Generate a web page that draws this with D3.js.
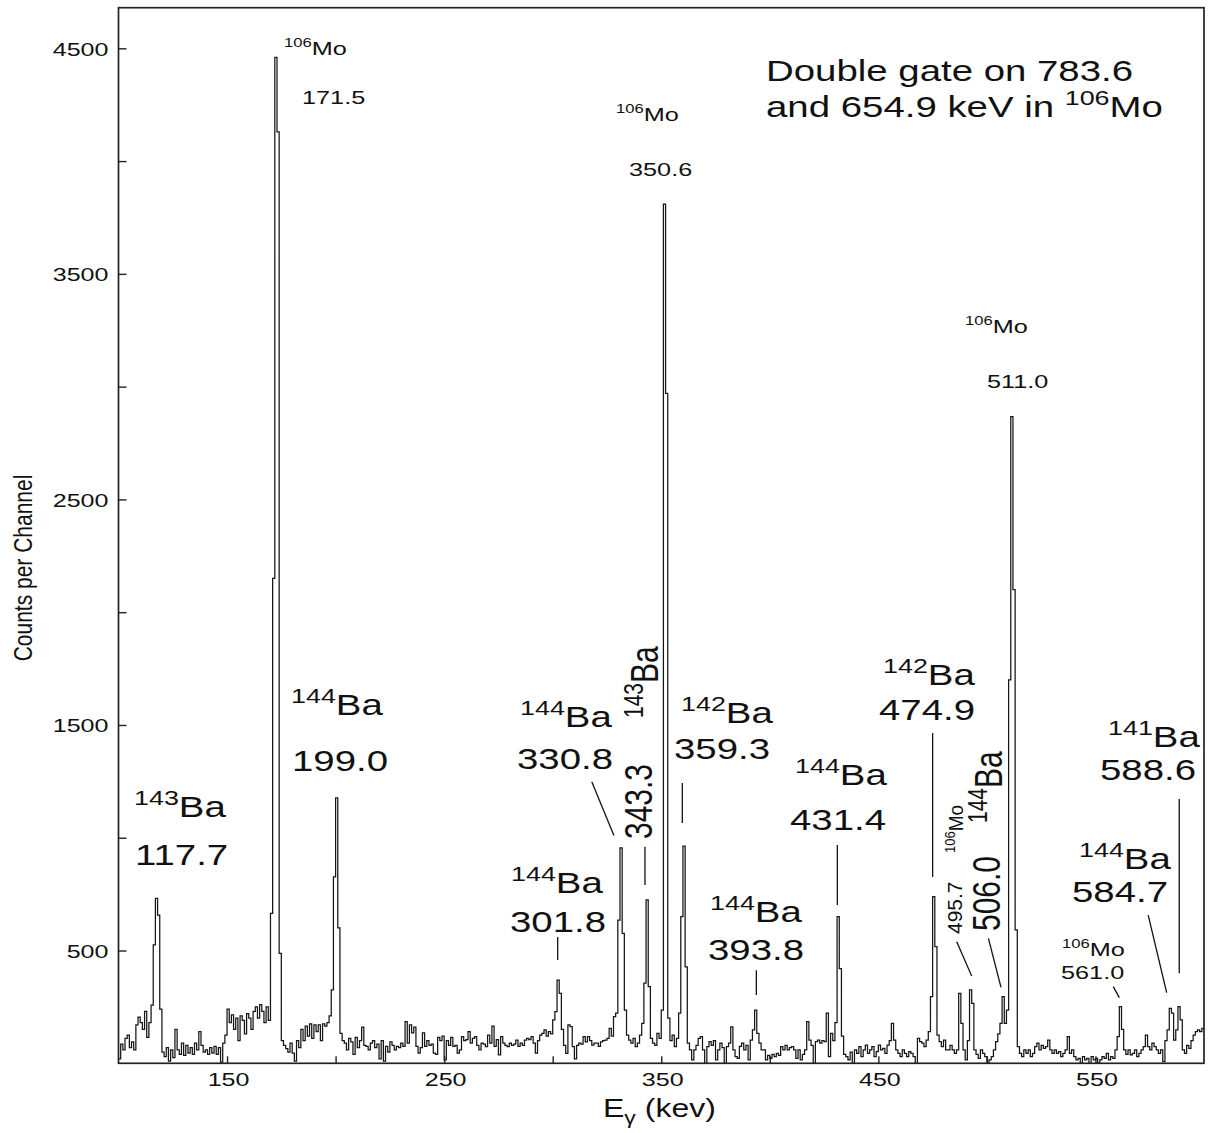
<!DOCTYPE html>
<html>
<head>
<meta charset="utf-8">
<script src="https://cdn.jsdelivr.net/npm/d3@7"></script>
<style>
  html, body { margin: 0; padding: 0; background: #fff; }
  svg { display: block; font-family: "Liberation Sans", Arial, Helvetica, sans-serif; }
</style>
</head>
<body>
<svg id="chart" width="1209" height="1133"></svg>
<script>
// Gamma-ray spectrum, double gate on 783.6 and 654.9 keV in 106Mo.
// One channel per keV, first channel starts at 100 keV.
const channelStart = 100;
const channelWidth = 1;

// counts per channel, 50 keV per block
const counts100 = [20, 85, 60, 110, 125, 70, 95, 60, 170, 205,
  180, 150, 230, 115, 180, 258, 525, 731, 657, 240,
  50, 30, 70, 10, 60, 25, 150, 60, 40, 90,
  35, 80, 45, 70, 40, 90, 60, 140, 80, 50,
  60, 40, 70, 45, 75, 40, 70, 5, 90, 125];
const counts150 = [240, 180, 215, 150, 200, 100, 210, 190, 130, 220,
  200, 150, 230, 250, 200, 260, 230, 180, 250, 190,
  665, 2150, 4460, 4130, 487, 100, 80, 65, 50, 90,
  45, 10, 100, 70, 150, 100, 165, 120, 175, 110,
  170, 140, 170, 100, 175, 165, 180, 210, 325, 826];
const counts200 = [1177, 600, 133, 100, 90, 60, 110, 95, 40, 115,
  70, 100, 160, 80, 75, 60, 90, 100, 70, 85,
  20, 100, 10, 75, 50, 95, 80, 60, 75, 70,
  90, 75, 185, 90, 170, 135, 160, 75, 45, 70,
  135, 75, 100, 80, 85, 45, 40, 115, 100, 120];
const counts250 = [15, 100, 80, 115, 75, 80, 45, 60, 118, 100,
  105, 140, 90, 110, 118, 80, 60, 90, 85, 74,
  125, 90, 165, 75, 105, 37, 118, 90, 80, 74,
  89, 80, 85, 103, 75, 90, 80, 103, 110, 105,
  118, 90, 45, 100, 125, 133, 148, 120, 140, 130];
const counts300 = [192, 229, 369, 310, 150, 80, 44, 170, 163, 74,
  20, 80, 89, 85, 118, 95, 118, 100, 81, 90,
  89, 75, 95, 100, 103, 111, 155, 120, 207, 222,
  635, 955, 576, 236, 125, 103, 89, 111, 74, 89,
  125, 177, 355, 724, 340, 110, 89, 80, 133, 110];
const counts350 = [236, 3809, 2970, 200, 100, 125, 74, 110, 222, 650,
  963, 428, 89, 59, 15, 60, 80, 110, 118, 60,
  0, 74, 96, 80, 100, 15, 60, 89, 70, 0,
  74, 90, 162, 60, 30, 22, 75, 89, 60, 80,
  15, 103, 148, 236, 133, 89, 60, 59, 15, 35];
const counts400 = [22, 40, 30, 44, 35, 74, 60, 80, 59, 70,
  74, 60, 22, 60, 15, 40, 60, 185, 103, 80,
  0, 96, 103, 89, 100, 96, 222, 30, 133, 100,
  180, 650, 420, 120, 40, 30, 15, 50, 0, 60,
  44, 74, 30, 59, 81, 44, 60, 74, 30, 52];
const counts450 = [81, 59, 66, 44, 81, 100, 177, 103, 60, 44,
  30, 59, 44, 30, 52, 44, 30, 0, 111, 96,
  89, 74, 103, 140, 296, 739, 517, 125, 96, 74,
  103, 60, 59, 80, 59, 44, 59, 310, 177, 59,
  15, 100, 325, 266, 59, 40, 22, 59, 44, 30];
const counts500 = [0, 15, 30, 60, 96, 130, 177, 296, 177, 236,
  1700, 2867, 2100, 591, 74, 44, 30, 60, 44, 59,
  30, 44, 74, 89, 60, 80, 66, 74, 103, 60,
  44, 59, 44, 52, 30, 44, 59, 118, 44, 59,
  30, 15, 22, 0, 30, 15, 22, 0, 30, 15];
const counts550 = [22, 0, 15, 30, 22, 44, 15, 30, 22, 60,
  118, 251, 150, 59, 40, 59, 37, 44, 59, 30,
  44, 59, 74, 125, 74, 59, 89, 74, 59, 44,
  59, 7, 100, 148, 244, 222, 103, 148, 251, 192,
  60, 44, 80, 66, 100, 125, 140, 148, 140, 155];

// axis ticks
const xTickValues = [150, 200, 250, 300, 350, 400, 450, 500, 550];
const xTickLabels = ["150", "250", "350", "450", "550"];
const yTickValues = [500, 1000, 1500, 2000, 2500, 3000, 3500, 4000, 4500];
const yTickLabels = ["500", "1500", "2500", "3500", "4500"];

// leader lines from labels to peaks: [keV, counts] -> [keV, counts]
const leaderLines = [
  [302.3, 560, 302.3, 458],
  [318.0, 1248, 328.2, 1010],
  [342.5, 960, 342.5, 791],
  [359.7, 1243, 359.7, 1065],
  [393.8, 413, 393.8, 303],
  [431.1, 968, 431.1, 702],
  [475.0, 1464, 475.0, 826],
  [486.1, 539, 493.0, 387],
  [500.7, 554, 506.5, 337],
  [558.2, 340, 561.0, 291],
  [574.3, 657, 582.8, 313],
  [588.6, 1172, 588.6, 399]
];

// ---------------------------------------------------------------
const W = 1209, H = 1133;
const plot = { left: 118.5, right: 1204, top: 7.7, bottom: 1063.3 };

const counts = [].concat(counts100, counts150, counts200, counts250, counts300,
                         counts350, counts400, counts450, counts500, counts550);
const channels = counts.map((c, i) => ({ e: channelStart + i * channelWidth, c }));
channels.push({ e: channelStart + counts.length * channelWidth, c: counts[counts.length - 1] });

const x = d3.scaleLinear().domain([100, 600]).range([plot.left, plot.right]);
const y = d3.scaleLinear().domain([0, 4680]).range([plot.bottom, plot.top]);

const svg = d3.select("#chart");
svg.append("rect").attr("width", W).attr("height", H).attr("fill", "#fff");

svg.append("defs").append("clipPath").attr("id", "plotClip")
  .append("rect")
  .attr("x", plot.left).attr("y", plot.top)
  .attr("width", plot.right - plot.left).attr("height", plot.bottom - plot.top);

// spectrum as a step histogram
const line = d3.line().x(d => x(d.e)).y(d => y(d.c)).curve(d3.curveStepAfter);
svg.append("path")
  .datum(channels)
  .attr("clip-path", "url(#plotClip)")
  .attr("d", line)
  .attr("fill", "none")
  .attr("stroke", "#151515")
  .attr("stroke-width", 1.25)
  .attr("stroke-linejoin", "miter");

// frame
svg.append("rect")
  .attr("x", plot.left).attr("y", plot.top)
  .attr("width", plot.right - plot.left).attr("height", plot.bottom - plot.top)
  .attr("fill", "none").attr("stroke", "#222").attr("stroke-width", 1.7);

const tickFont = 19, tickStretch = 1.32;

// y axis (ticks pointing into the plot)
const yAxis = d3.axisLeft(y)
  .tickValues(yTickValues)
  .tickSize(-8)
  .tickPadding(0)
  .tickFormat(d => yTickLabels.includes(String(d)) ? String(d) : "");
const gy = svg.append("g").attr("transform", `translate(${plot.left},0)`).call(yAxis);
gy.select(".domain").remove();
gy.selectAll(".tick line").attr("stroke", "#222").attr("stroke-width", 1.4);
gy.selectAll(".tick text")
  .attr("x", null).attr("dy", null)
  .attr("fill", "#111")
  .attr("font-size", tickFont)
  .attr("font-family", "Liberation Sans, Arial, sans-serif")
  .attr("transform", `translate(-10,6.8) scale(${tickStretch},1)`);

// x axis
const xAxis = d3.axisBottom(x)
  .tickValues(xTickValues)
  .tickSize(-7)
  .tickPadding(0)
  .tickFormat(d => xTickLabels.includes(String(d)) ? String(d) : "");
const gx = svg.append("g").attr("transform", `translate(0,${plot.bottom})`).call(xAxis);
gx.select(".domain").remove();
gx.selectAll(".tick line").attr("stroke", "#222").attr("stroke-width", 1.4);
gx.selectAll(".tick text")
  .attr("y", null).attr("dy", null)
  .attr("fill", "#111")
  .attr("font-size", tickFont)
  .attr("font-family", "Liberation Sans, Arial, sans-serif")
  .attr("transform", `translate(1,23) scale(${tickStretch},1)`);

// axis titles
const xt = svg.append("text")
  .attr("transform", `translate(603,1117) scale(1.28,1)`)
  .attr("font-size", 25).attr("fill", "#111");
xt.append("tspan").text("E");
xt.append("tspan").attr("font-size", 18).attr("dy", 7).text("\u03B3");
xt.append("tspan").attr("dy", -7).text(" (kev)");

svg.append("text")
  .attr("transform", `translate(32,568) scale(1.2,1) rotate(-90)`)
  .attr("text-anchor", "middle")
  .attr("font-size", 21).attr("fill", "#111")
  .text("Counts per Channel");

// leader lines
svg.append("g").selectAll("line")
  .data(leaderLines)
  .join("line")
  .attr("x1", d => x(d[0])).attr("y1", d => y(d[1]))
  .attr("x2", d => x(d[2])).attr("y2", d => y(d[3]))
  .attr("stroke", "#111").attr("stroke-width", 1.3);

// peak labels
const labelStyles = {
  small: { size: 19, sup: 12.5, shift: 8.5, sx: 1.33 },
  big:   { size: 30, sup: 21, shift: 12, sx: 1.28 },
  title: { size: 30, sup: 21, shift: 12, sx: 1.28 },
  rotSmall: { size: 21, sup: 13, shift: 8, sx: 1.0 }
};

const annotationLayout = [
  { x: 284, y: 55, style: "small", sup: "106", text: "Mo" },
  { x: 302, y: 104, style: "small", text: "171.5" },
  { x: 616, y: 121, style: "small", sup: "106", text: "Mo" },
  { x: 629, y: 176, style: "small", text: "350.6" },
  { x: 965, y: 333, style: "small", sup: "106", text: "Mo" },
  { x: 987, y: 388, style: "small", text: "511.0" },
  { x: 1062, y: 956, style: "small", sup: "106", text: "Mo" },
  { x: 1061, y: 979, style: "small", text: "561.0" },

  { x: 134, y: 817, style: "big", sup: "143", text: "Ba" },
  { x: 135, y: 865, style: "big", text: "117.7" },
  { x: 291, y: 715, style: "big", sup: "144", text: "Ba" },
  { x: 292, y: 771, style: "big", text: "199.0" },
  { x: 520, y: 727, style: "big", sup: "144", text: "Ba" },
  { x: 517, y: 769, style: "big", text: "330.8" },
  { x: 681, y: 723, style: "big", sup: "142", text: "Ba" },
  { x: 674, y: 759, style: "big", text: "359.3" },
  { x: 795, y: 785, style: "big", sup: "144", text: "Ba" },
  { x: 790, y: 830, style: "big", text: "431.4" },
  { x: 511, y: 893, style: "big", sup: "144", text: "Ba" },
  { x: 510, y: 932, style: "big", text: "301.8" },
  { x: 710, y: 922, style: "big", sup: "144", text: "Ba" },
  { x: 708, y: 960, style: "big", text: "393.8" },
  { x: 883, y: 685, style: "big", sup: "142", text: "Ba" },
  { x: 879, y: 720, style: "big", text: "474.9" },
  { x: 1108, y: 747, style: "big", sup: "141", text: "Ba" },
  { x: 1100, y: 780, style: "big", text: "588.6" },
  { x: 1079, y: 869, style: "big", sup: "144", text: "Ba" },
  { x: 1072, y: 902, style: "big", text: "584.7" },

  { x: 658, y: 718, style: "big", rot: true, sup: "143", text: "Ba" },
  { x: 652, y: 839, style: "big", rot: true, text: "343.3" },
  { x: 1002, y: 823, style: "big", rot: true, sup: "144", text: "Ba" },
  { x: 1000, y: 931, style: "big", rot: true, text: "506.0" },
  { x: 963, y: 853, style: "rotSmall", rot: true, sup: "106", text: "Mo", size: 19, supSize: 13, shift: 7, sx: 1.1 },
  { x: 962, y: 934, style: "rotSmall", rot: true, text: "495.7" },

  { x: 766, y: 81, style: "title", text: "Double gate on 783.6" },
  { x: 766, y: 117, style: "title", pre: "and 654.9 keV in ", sup: "106", text: "Mo" }
];

const labels = svg.append("g").attr("fill", "#111");
annotationLayout.forEach(a => {
  const st = labelStyles[a.style];
  const size = a.size || st.size, supSize = a.supSize || st.sup, shift = a.shift || st.shift;
  const tf = `translate(${a.x},${a.y}) scale(${a.sx || st.sx},1)` + (a.rot ? " rotate(-90)" : "");
  const t = labels.append("text").attr("transform", tf).attr("font-size", size);
  if (a.pre) t.append("tspan").text(a.pre);
  if (a.sup) {
    t.append("tspan").attr("font-size", supSize).attr("dy", -shift).text(a.sup);
    t.append("tspan").attr("dy", shift).text(a.text);
  } else {
    t.append("tspan").text(a.text);
  }
});
</script>
</body>
</html>
